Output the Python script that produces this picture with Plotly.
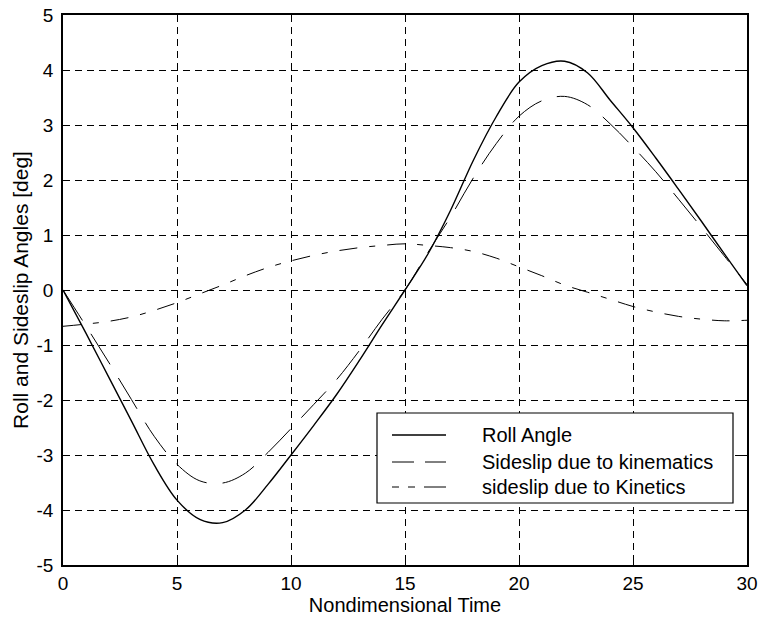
import plotly.graph_objects as go

# ---- data ----
t = list(range(0, 31))
roll_angle = [0.0, -0.78, -1.58, -2.38, -3.18, -3.82, -4.17, -4.23, -4.0, -3.53,
              -3.0, -2.46, -1.9, -1.28, -0.63, 0.0, 0.65, 1.45, 2.36, 3.15,
              3.78, 4.08, 4.16, 3.95, 3.45, 2.95, 2.4, 1.83, 1.25, 0.66, 0.08]
sideslip_kinematics = [0.0, -0.65, -1.31, -1.99, -2.66, -3.17, -3.47, -3.51, -3.33, -2.95,
                       -2.52, -2.08, -1.63, -1.1, -0.53, 0.0, 0.68, 1.33, 2.04, 2.66,
                       3.16, 3.44, 3.52, 3.37, 3.02, 2.6, 2.15, 1.65, 1.14, 0.62, 0.1]
sideslip_kinetics = [-0.66, -0.62, -0.57, -0.49, -0.37, -0.23, -0.07, 0.09, 0.26, 0.41,
                     0.53, 0.63, 0.71, 0.77, 0.81, 0.84, 0.81, 0.77, 0.7, 0.58,
                     0.42, 0.26, 0.09, -0.04, -0.17, -0.3, -0.4, -0.48, -0.53, -0.56, -0.55]
series_names = ["Roll Angle", "Sideslip due to kinematics", "sideslip due to Kinetics"]
x_ticks = [0, 5, 10, 15, 20, 25, 30]
x_tick_labels = ["0", "5", "10", "15", "20", "25", "30"]
y_ticks = [-5, -4, -3, -2, -1, 0, 1, 2, 3, 4, 5]
y_tick_labels = ["-5", "-4", "-3", "-2", "-1", "0", "1", "2", "3", "4", "5"]

FONT = "Liberation Sans, Arial, sans-serif"
W, H = 759, 623
L, R, T, B = 63, 12, 15, 58
X0, X1, Y0, Y1 = 0, 30, -5, 5

def px2x(px):
    return X0 + (px - L) / (W - L - R) * (X1 - X0)

def py2y(py):
    return Y1 - (py - T) / (H - T - B) * (Y1 - Y0)

styles = [
    dict(color="black", width=1.4, dash="solid"),
    dict(color="black", width=1.0, dash="36px,16px"),
    dict(color="black", width=1.0, dash="18px,12px,6px,12px"),
]
legend_dash = ["solid", "22px,11px", "7px,9px,7px,9px,22px"]

fig = go.Figure()
for name, ys, st in zip(series_names,
                        [roll_angle, sideslip_kinematics, sideslip_kinetics], styles):
    fig.add_trace(go.Scatter(x=t, y=ys, mode="lines", name=name, line=st,
                             line_shape="spline", showlegend=False))

# manual legend box (MATLAB style)
shapes = [dict(type="rect", xref="x", yref="y",
               x0=px2x(377), x1=px2x(733), y0=py2y(413), y1=py2y(503),
               line=dict(color="black", width=1.2), fillcolor="white", layer="above")]
annotations = []
row_py = [435, 462, 487]
for name, py, d, st in zip(series_names, row_py, legend_dash, styles):
    shapes.append(dict(type="line", xref="x", yref="y",
                       x0=px2x(392), x1=px2x(446), y0=py2y(py), y1=py2y(py),
                       line=dict(color="black", width=st["width"], dash=d), layer="above"))
    annotations.append(dict(x=px2x(480), y=py2y(py), xref="x", yref="y",
                            text=name, showarrow=False, xanchor="left", yanchor="middle",
                            font=dict(family=FONT, size=20, color="black")))

axis_common = dict(
    showline=True, linecolor="black", linewidth=1.5, mirror="ticks",
    ticks="inside", ticklen=5, tickcolor="black", tickwidth=1,
    showgrid=True, gridcolor="black", gridwidth=1, griddash="7px,5px",
    zeroline=False, tickfont=dict(family=FONT, size=19, color="black"),
)

fig.update_layout(
    width=W, height=H,
    margin=dict(l=L, r=R, t=T, b=B),
    paper_bgcolor="white", plot_bgcolor="white",
    font=dict(family=FONT, color="black"),
    xaxis=dict(range=[X0, X1], tickvals=x_ticks, ticktext=x_tick_labels,
               automargin=False, ticklabelstandoff=0,
               title=dict(text="Nondimensional Time", font=dict(family=FONT, size=20),
                          standoff=2),
               **axis_common),
    yaxis=dict(range=[Y0, Y1], tickvals=y_ticks, ticktext=y_tick_labels,
               automargin=False, ticklabelstandoff=4,
               title=dict(text="Roll and Sideslip Angles [deg]",
                          font=dict(family=FONT, size=21), standoff=2),
               **axis_common),
    shapes=shapes,
    annotations=annotations,
    showlegend=False,
)

fig.write_html("out.html",
               config={"displayModeBar": False},
               post_script="document.body.style.margin='0';document.body.style.overflow='hidden';")
